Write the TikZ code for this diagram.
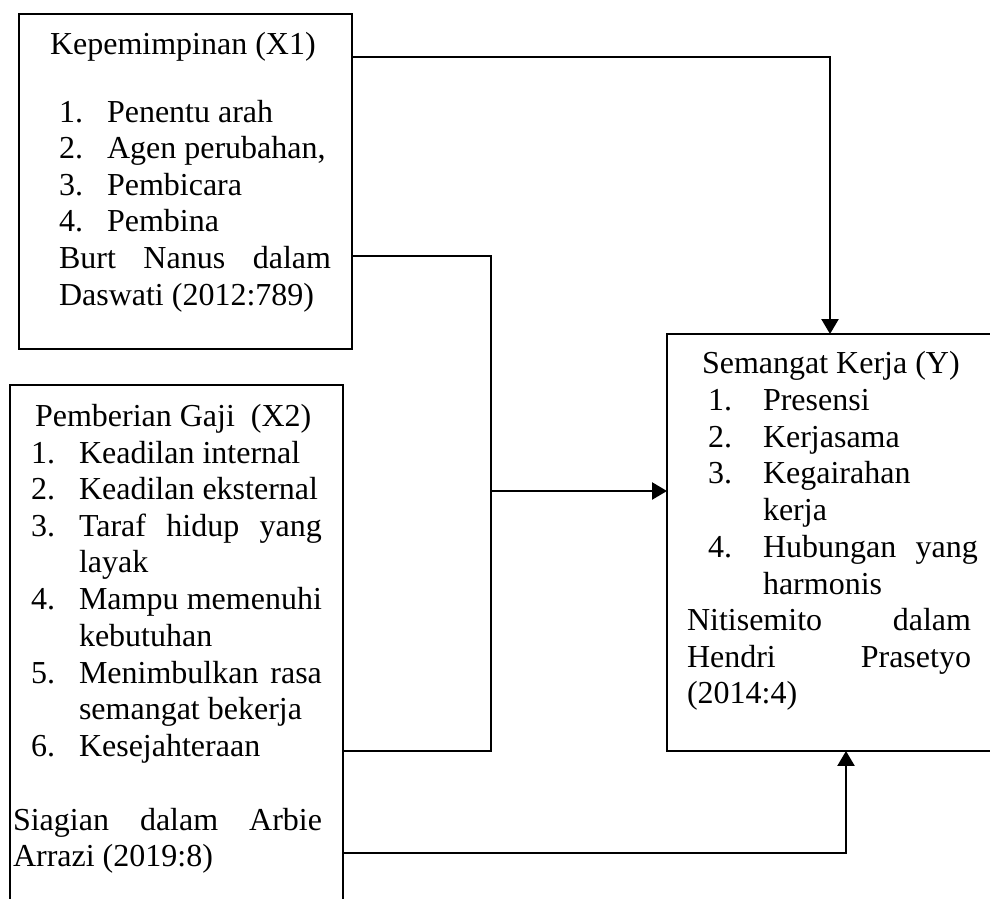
\documentclass[tikz,border=0pt]{standalone}
\usepackage{fontspec}
\setmainfont{Liberation Serif}
\usetikzlibrary{fit,arrows.meta}
\tikzset{
  boxnode/.style={draw, line width=0.75pt, inner sep=0pt, outer sep=0pt},
  txt/.style={anchor=base west, inner sep=0pt, outer sep=0pt, font=\fontsize{12pt}{13.8pt}\selectfont},
  conn/.style={line width=0.75pt},
  arr/.style={line width=0.75pt, -{Triangle[length=5.6pt,width=6.4pt]}}
}
\begin{document}
\begin{tikzpicture}[x=0.375pt, y=-0.375pt]
\useasboundingbox (0,0) rectangle (990,898);
\clip (0,0) rectangle (990,898);
% boxes
\coordinate (x1nw) at (19,14);   \coordinate (x1se) at (352,349);
\coordinate (x2nw) at (10,385);  \coordinate (x2se) at (343,930);
\coordinate (ynw) at (667,334);  \coordinate (yse) at (1020,751);
\node[boxnode, fit=(x1nw)(x1se)] (x1) {};
\node[boxnode, fit=(x2nw)(x2se)] (x2) {};
\node[boxnode, fit=(ynw)(yse)] (y) {};
% X1 text
\node[txt] (t1) at (50,55) {Kepemimpinan (X1)};
\node[txt] (t1n1) at (59,123) {1.}; \node[txt] (t1a) at (107,123) {Penentu arah};
\node[txt] (t1n2) at (59,159) {2.}; \node[txt] (t1b) at (107,159) {Agen perubahan,};
\node[txt] (t1n3) at (59,196) {3.}; \node[txt] (t1c) at (107,196) {Pembicara};
\node[txt] (t1n4) at (59,232) {4.}; \node[txt] (t1d) at (107,232) {Pembina};
\node[txt] (t1e) at (59,269) {\makebox[102pt][s]{Burt Nanus dalam}};
\node[txt] (t1f) at (59,305) {Daswati (2012:789)};
% X2 text
\node[txt] (t2) at (35,426) {Pemberian Gaji\ \ (X2)};
\node[txt] (t2n1) at (31,463) {1.}; \node[txt] (t2a) at (79,463) {Keadilan internal};
\node[txt] (t2n2) at (31,499) {2.}; \node[txt] (t2b) at (79,499) {Keadilan eksternal};
\node[txt] (t2n3) at (31,536) {3.}; \node[txt] (t2c) at (79,536) {\makebox[91.1pt][s]{Taraf hidup yang}};
\node[txt] (t2c2) at (79,572) {layak};
\node[txt] (t2n4) at (31,609) {4.}; \node[txt] (t2d) at (79,609) {\makebox[91.1pt][s]{Mampu memenuhi}};
\node[txt] (t2d2) at (79,646) {kebutuhan};
\node[txt] (t2n5) at (31,683) {5.}; \node[txt] (t2e) at (79,683) {\makebox[91.1pt][s]{Menimbulkan rasa}};
\node[txt] (t2e2) at (79,719) {semangat bekerja};
\node[txt] (t2n6) at (31,756) {6.}; \node[txt] (t2f) at (79,756) {Kesejahteraan};
\node[txt] (t2g) at (13,830) {\makebox[115.9pt][s]{Siagian dalam Arbie}};
\node[txt] (t2h) at (13,866) {Arrazi (2019:8)};
% Y text
\node[txt] (t3) at (702,373) {Semangat Kerja (Y)};
\node[txt] (t3n1) at (708,410) {1.}; \node[txt] (t3a) at (763,410) {Presensi};
\node[txt] (t3n2) at (708,447) {2.}; \node[txt] (t3b) at (763,447) {Kerjasama};
\node[txt] (t3n3) at (708,483) {3.}; \node[txt] (t3c) at (763,483) {Kegairahan};
\node[txt] (t3c2) at (763,520) {kerja};
\node[txt] (t3n4) at (708,557) {4.}; \node[txt] (t3d) at (763,557) {\makebox[80.6pt][s]{Hubungan yang}};
\node[txt] (t3d2) at (763,594) {harmonis};
\node[txt] (t3e) at (687,630) {\makebox[106.5pt][s]{Nitisemito dalam}};
\node[txt] (t3f) at (687,667) {\makebox[106.5pt][s]{Hendri Prasetyo}};
\node[txt] (t3g) at (687,703) {(2014:4)};
% connectors
\coordinate (a1) at (830,57);
\draw[arr] (x1.east |- a1) -- (a1) -- (y.north -| a1);
\coordinate (b1) at (491,256);
\coordinate (b2) at (491,751);
\draw[conn] (x1.east |- b1) -- (b1) -- (b2) -- (x2.east |- b2);
\coordinate (c1) at (491,491);
\draw[arr] (c1) -- (y.west |- c1);
\coordinate (d1) at (846,853);
\draw[arr] (x2.east |- d1) -- (d1) -- (y.south -| d1);
\end{tikzpicture}
\end{document}
